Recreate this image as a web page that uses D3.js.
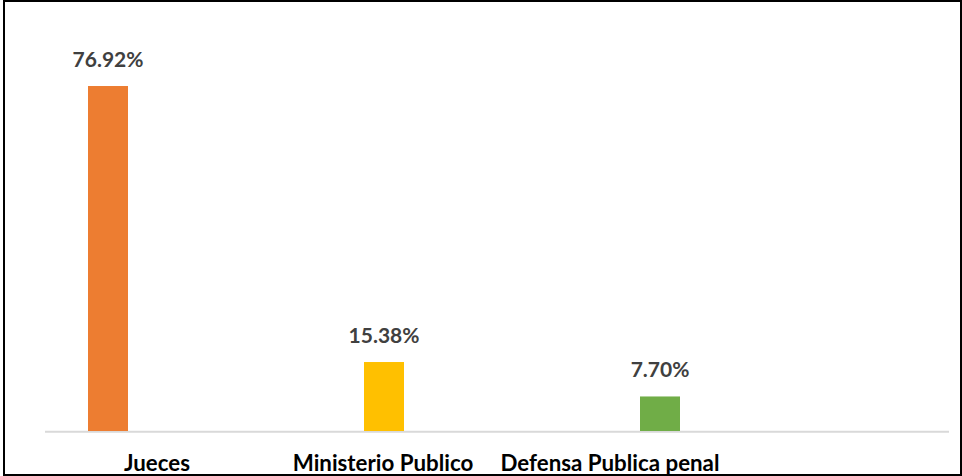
<!DOCTYPE html>
<html>
<head>
<meta charset="utf-8">
<script src="https://cdn.jsdelivr.net/npm/d3@7"></script>
<style>
  html, body { margin: 0; padding: 0; background: #fff; }
  svg { display: block; }
</style>
</head>
<body>
<svg id="chart" width="962" height="476"></svg>
<script>
// Share of cases by institution
const categories = ["Jueces", "Ministerio Publico", "Defensa Publica penal"];
const values = [76.92, 15.38, 7.70];
const valueLabels = ["76.92%", "15.38%", "7.70%"];
const colors = ["#ED7D31", "#FFC000", "#70AD47"];

const svg = d3.select("#chart");

// outer frame
svg.append("rect")
  .attr("x", 4).attr("y", 1)
  .attr("width", 957).attr("height", 474)
  .attr("fill", "#fff")
  .attr("stroke", "#000")
  .attr("stroke-width", 2);

const baseY = 431;
const x = d3.scalePoint().domain(categories).range([108, 660]);
const y = d3.scaleLinear().domain([0, 80]).range([baseY, baseY - 4.485 * 80]);
const barW = 40;

// category axis line
svg.append("line")
  .attr("x1", 45).attr("x2", 949)
  .attr("y1", baseY + 0.7).attr("y2", baseY + 0.7)
  .attr("stroke", "#d9d9d9")
  .attr("stroke-width", 2);

// bars
svg.selectAll("rect.bar")
  .data(categories)
  .join("rect")
  .attr("class", "bar")
  .attr("x", d => x(d) - barW / 2)
  .attr("y", (d, i) => y(values[i]))
  .attr("width", barW)
  .attr("height", (d, i) => baseY - y(values[i]))
  .attr("fill", (d, i) => colors[i]);

// value labels
svg.selectAll("text.val")
  .data(categories)
  .join("text")
  .attr("class", "val")
  .attr("x", d => x(d))
  .attr("y", (d, i) => y(values[i]) - 19)
  .attr("text-anchor", "middle")
  .attr("font-family", "Lato, 'Open Sans', sans-serif")
  .attr("font-weight", "bold")
  .attr("font-size", 21)
  .attr("fill", "#404040")
  .text((d, i) => valueLabels[i]);

// category labels (text boxes sit slightly off the bar centres)
const labelShift = [49, -1, -50];
svg.selectAll("text.cat")
  .data(categories)
  .join("text")
  .attr("class", "cat")
  .attr("x", (d, i) => x(d) + labelShift[i])
  .attr("y", 471)
  .attr("text-anchor", "middle")
  .attr("font-family", "Lato, 'Open Sans', sans-serif")
  .attr("font-weight", "bold")
  .attr("font-size", 22.3)
  .attr("fill", "#000")
  .text(d => d);
</script>
</body>
</html>
